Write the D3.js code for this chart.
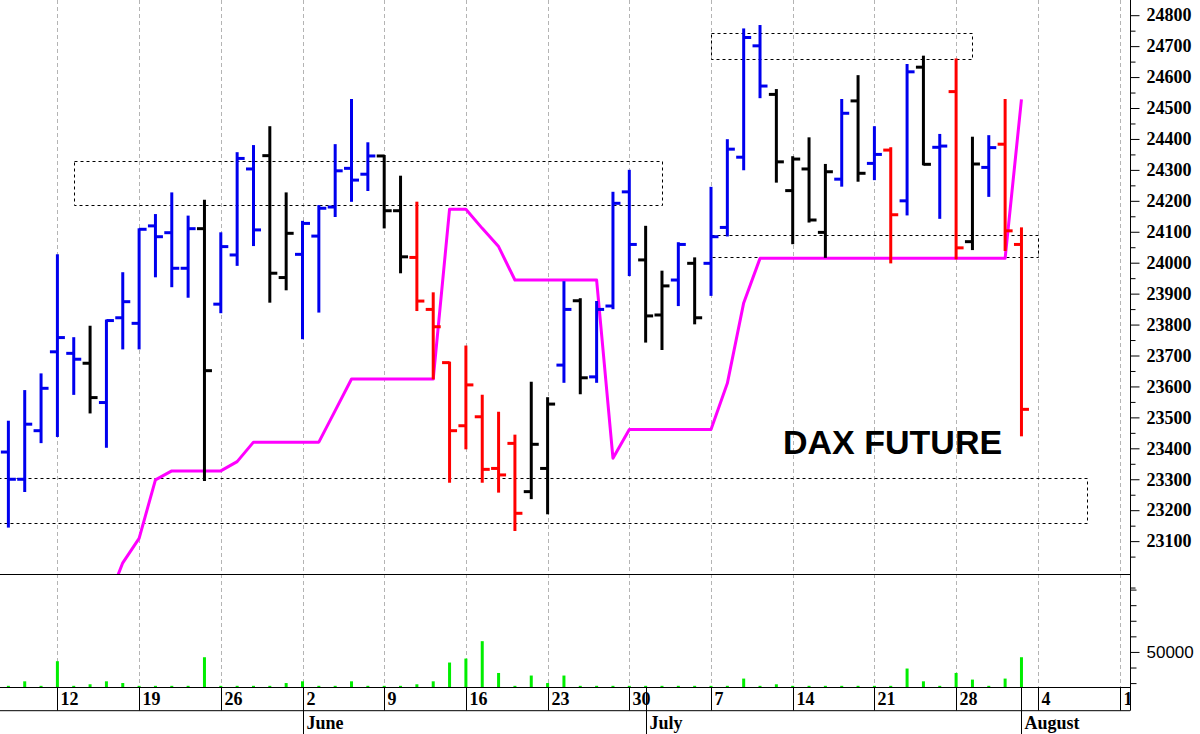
<!DOCTYPE html>
<html><head><meta charset="utf-8">
<script src="https://cdn.jsdelivr.net/npm/d3@7"></script>
<style>html,body{margin:0;padding:0;background:#fff;overflow:hidden}</style>
</head><body><svg id="c" width="1200" height="734"></svg>
<script>
// ---------- DATA ----------
const dates = ["2025-05-07","2025-05-08","2025-05-09",
"2025-05-12","2025-05-13","2025-05-14","2025-05-15","2025-05-16",
"2025-05-19","2025-05-20","2025-05-21","2025-05-22","2025-05-23",
"2025-05-26","2025-05-27","2025-05-28","2025-05-29","2025-05-30",
"2025-06-02","2025-06-03","2025-06-04","2025-06-05","2025-06-06",
"2025-06-09","2025-06-10","2025-06-11","2025-06-12","2025-06-13",
"2025-06-16","2025-06-17","2025-06-18","2025-06-19","2025-06-20",
"2025-06-23","2025-06-24","2025-06-25","2025-06-26","2025-06-27",
"2025-06-30","2025-07-01","2025-07-02","2025-07-03","2025-07-04",
"2025-07-07","2025-07-08","2025-07-09","2025-07-10","2025-07-11",
"2025-07-14","2025-07-15","2025-07-16","2025-07-17","2025-07-18",
"2025-07-21","2025-07-22","2025-07-23","2025-07-24","2025-07-25",
"2025-07-28","2025-07-29","2025-07-30","2025-07-31","2025-08-01"];
const opens = [23388,23300,23457,
23712,23707,23675,23548,23822,
23804,24119,24097,23982,24110,
23866,24025,24303,24346,23952,
24027,24086,24180,24305,24286,
24345,24168,24017,23849,23677,
23473,23502,23335,23416,23260,
23335,23669,23877,23631,23860,
24229,24009,23831,23944,23998,
23998,24114,24341,24701,24544,
24233,24303,24098,24270,24523,
24321,24364,24200,24632,24373,
24553,24068,24308,24383,24059];
const highs = [23486,23585,23639,
24024,23756,23793,23813,23966,
24108,24154,24224,24149,24200,
24095,24354,24377,24438,24224,
24132,24183,24380,24526,24386,
24345,24278,24194,23901,23677,
23729,23570,23515,23441,23612,
23562,23937,23882,23873,24226,
24297,24116,23971,24063,24014,
24242,24396,24754,24765,24558,
24341,24402,24316,24526,24603,
24438,24370,24639,24666,24413,
24657,24404,24409,24526,24111];
const lows = [23147,23262,23420,
23440,23576,23516,23405,23723,
23723,23956,23924,23890,23298,
23840,23993,24057,23874,23914,
23756,23842,24151,24200,24235,
24114,23969,23847,23626,23292,
23400,23292,23260,23136,23239,
23190,23615,23578,23615,23853,
23960,23745,23721,23863,23804,
23896,24088,24302,24535,24262,
24063,24133,24019,24249,24265,
24270,24001,24156,24318,24145,
24014,24044,24216,24041,23442];
const closes = [23300,23478,23594,
23758,23688,23564,23813,23874,
24108,24084,23982,24110,23651,
24052,24337,24106,23966,24095,
24127,24176,24297,24267,24345,
24168,24019,23876,23793,23457,
23605,23332,23314,23190,23413,
23543,23849,23628,23849,24192,
24059,23828,23925,24059,23822,
24084,24367,24728,24571,24326,
24335,24138,24294,24483,24289,
24350,24155,24617,24318,24377,
24048,24319,24372,24103,23526];
// bar colour class: b = blue, k = black, r = red
const barClass = ["b","b","b",
"b","b","k","b","b",
"b","b","b","b","k",
"b","b","b","k","k",
"b","b","b","b","b",
"k","k","r","r","r",
"r","r","r","r","k",
"k","b","k","b","b",
"b","k","k","b","k",
"b","b","b","b","k",
"k","k","k","b","k",
"b","r","b","k","b",
"r","k","b","r","r"];
const volumes = [6500,12300,6500,
38100,6500,8500,12300,10100,
6500,6500,6500,6500,43200,
6500,6500,6500,6500,10100,
12300,6500,6500,12300,6500,
6500,6500,8500,12300,36400,
41500,63800,23000,6500,19700,
10100,19700,6500,6500,6500,
6500,6500,6500,6500,6500,
6500,6500,15800,6500,8500,
6500,6500,6500,6500,6500,
6500,6500,28700,12300,6500,
23000,14500,6500,15800,43200];
// trailing stop line (null = not drawn)
const stopLine = [null,null,null,
null,null,null,22895,23030,
23109,23298,23327,23327,23327,
23327,23357,23420,23420,23420,
23420,23420,23522,23624,23624,
23624,23624,23624,23624,24173,
24173,24111,24052,23944,23944,
23944,23944,23944,23944,23368,
23461,23461,23461,23461,23461,
23461,23610,23870,24014,24014,
24014,24014,24014,24014,24014,
24014,24014,24014,24014,24014,
24014,24014,24014,24014,24528];
const priceTicks = [23100,23200,23300,23400,23500,23600,23700,23800,23900,24000,24100,24200,24300,24400,24500,24600,24700,24800];
const priceMinorTicks = [22950,23050,23150,23250,23350,23450,23550,23650,23750,23850,23950,24050,24150,24250,24350,24450,24550,24650,24750];
const volumeTicks = [10000,30000,70000,90000,110000,130000];
const volumeLabels = [50000];
const monthNames = ["June","July","August"];
// dashed zones: start date (null = from left edge), end date, top, bottom price
const zoneFrom = ["2025-05-13","2025-07-07","2025-07-07",null];
const zoneTo = ["2025-07-02","2025-07-29","2025-08-04","2025-08-07"];
const zoneTop = [24328,24742,24088,23305];
const zoneBottom = [24187,24657,24018,23158];
const title = "DAX FUTURE";

// ---------- LAYOUT ----------
const W = 1200, H = 734;
const plotRight = 1130, priceBottom = 574, volBottom = 687, dayRowBottom = 710.7;
const svg = d3.select("#c");
const parse = d3.timeParse("%Y-%m-%d");
const calendar = d3.timeDays(new Date(2025,4,7), new Date(2025,7,16)).filter(d => d.getDay()>0 && d.getDay()<6);
const calIndex = new Map(calendar.map((d,i)=>[+d,i]));
const idx = d => calIndex.get(+d);
const x = d3.scaleLinear().domain([3, 68]).range([57.4, 1119.5]);
const y = d3.scaleLinear().domain([24000, 24800]).range([262.7, 15.2]);
const yv = d3.scaleLinear().domain([5000, 150000]).range([volBottom, priceBottom]);

const bars = dates.map((s,i)=>({d:parse(s), o:opens[i], h:highs[i], l:lows[i], c:closes[i], k:barClass[i], v:volumes[i], s:stopLine[i]}));
const colorOf = {b:"#0000ee", k:"#000000", r:"#ff0000"};

svg.append("defs").append("clipPath").attr("id","pclip").append("rect")
  .attr("x",0).attr("y",0).attr("width",plotRight).attr("height",priceBottom);

// gridlines at Mondays
const mondays = calendar.filter(d=>d.getDay()===1);
svg.append("g").selectAll("line").data(mondays).join("line")
  .attr("x1",d=>Math.round(x(idx(d)))+0.5).attr("x2",d=>Math.round(x(idx(d)))+0.5)
  .attr("y1",0).attr("y2",volBottom)
  .attr("stroke","#b4b4b4").attr("stroke-width",1).attr("stroke-dasharray","4,3");

// dashed zones
const zg = svg.append("g").attr("clip-path","url(#pclip)");
zoneTo.forEach((t,i)=>{
  const x0 = zoneFrom[i] ? x(idx(parse(zoneFrom[i]))) : -2;
  const x1 = x(idx(parse(t)));
  zg.append("rect").attr("x",Math.round(x0)+0.5).attr("y",Math.round(y(zoneTop[i]))+0.5)
    .attr("width",Math.round(x1-x0)).attr("height",Math.round(y(zoneBottom[i])-y(zoneTop[i])))
    .attr("fill","none").attr("stroke","#000").attr("stroke-width",1).attr("stroke-dasharray","3,3");
});

// stop line
const pg = svg.append("g").attr("clip-path","url(#pclip)");
pg.append("path").datum(bars)
  .attr("d", d3.line().defined(b=>b.s!==null).x(b=>x(idx(b.d))).y(b=>y(b.s)))
  .attr("fill","none").attr("stroke","#ff00ff").attr("stroke-width",3).attr("stroke-linejoin","round");

// OHLC bars
const bg = pg.append("g");
const tick = 7.5;
bars.forEach(b=>{
  const cx = x(idx(b.d)), col = colorOf[b.k];
  const g = bg.append("g").attr("stroke",col).attr("stroke-width",3);
  g.append("line").attr("x1",cx).attr("x2",cx).attr("y1",y(b.h)-1).attr("y2",y(b.l)+1);
  g.append("line").attr("x1",cx-tick).attr("x2",cx).attr("y1",y(b.o)).attr("y2",y(b.o));
  g.append("line").attr("x1",cx).attr("x2",cx+tick).attr("y1",y(b.c)).attr("y2",y(b.c));
});

// title
svg.append("text").attr("x",783).attr("y",454).text(title)
  .attr("font-family","Liberation Sans, Arial, sans-serif").attr("font-weight","bold").attr("font-size",34).attr("fill","#000");

// volume bars
svg.append("g").selectAll("rect").data(bars).join("rect")
  .attr("x",b=>x(idx(b.d))-1.5).attr("width",3)
  .attr("y",b=>yv(b.v)).attr("height",b=>volBottom-yv(b.v))
  .attr("fill","#00ee00");

// frame lines
const frame = svg.append("g").attr("stroke","#000").attr("stroke-width",1);
frame.append("line").attr("x1",0).attr("x2",plotRight).attr("y1",priceBottom+0.5).attr("y2",priceBottom+0.5);
frame.append("line").attr("x1",0).attr("x2",plotRight).attr("y1",volBottom+0.5).attr("y2",volBottom+0.5);
frame.append("line").attr("x1",0).attr("x2",plotRight).attr("y1",dayRowBottom).attr("y2",dayRowBottom);
frame.append("line").attr("x1",plotRight+0.5).attr("x2",plotRight+0.5).attr("y1",0).attr("y2",dayRowBottom);

// price axis
const pax = svg.append("g").attr("transform",`translate(${plotRight+0.5},0)`)
  .call(d3.axisRight(y).tickValues(priceTicks).tickSize(9).tickPadding(7).tickFormat(d3.format("d")));
pax.select(".domain").remove();
pax.selectAll("text").attr("font-family","Liberation Serif, Times New Roman, serif").attr("font-weight","bold").attr("font-size",18).attr("fill","#000");
const minorP = svg.append("g").attr("transform",`translate(${plotRight+0.5},0)`)
  .call(d3.axisRight(y).tickValues(priceMinorTicks).tickSize(5).tickFormat(""));
minorP.select(".domain").remove();

// volume axis
const vax = svg.append("g").attr("transform",`translate(${plotRight+0.5},0)`)
  .call(d3.axisRight(yv).tickValues(volumeTicks).tickSize(6).tickFormat(""));
vax.select(".domain").remove();
const vax2 = svg.append("g").attr("transform",`translate(${plotRight+0.5},0)`)
  .call(d3.axisRight(yv).tickValues(volumeLabels).tickSize(9).tickPadding(7).tickFormat(d3.format("d")));
vax2.select(".domain").remove();
vax2.selectAll("text").attr("font-family","Liberation Sans, Arial, sans-serif").attr("font-size",17).attr("fill","#000");

// date axis: week ticks
const dayFmt = d3.timeFormat("%-d");
const dg = svg.append("g");
dg.append("defs").append("clipPath").attr("id","dclip").append("rect").attr("x",0).attr("y",volBottom).attr("width",plotRight).attr("height",dayRowBottom-volBottom);
const wk = dg.append("g").attr("clip-path","url(#dclip)");
mondays.forEach(m=>{
  const xx = Math.round(x(idx(m)))+0.5;
  wk.append("line").attr("x1",xx).attr("x2",xx).attr("y1",volBottom).attr("y2",dayRowBottom).attr("stroke","#000");
  wk.append("text").attr("x",xx+3).attr("y",705).text(dayFmt(m))
    .attr("font-family","Liberation Serif, Times New Roman, serif").attr("font-weight","bold").attr("font-size",18).attr("fill","#000");
});
// month marks
const monthStarts = [];
calendar.forEach((d,i)=>{ if(i>0 && d.getMonth()!==calendar[i-1].getMonth() && +d <= +parse(dates[dates.length-1])) monthStarts.push(d); });
monthStarts.forEach((m,i)=>{
  const xx = Math.round(x(idx(m)))+0.5;
  dg.append("line").attr("x1",xx).attr("x2",xx).attr("y1",volBottom).attr("y2",H).attr("stroke","#000");
  dg.append("text").attr("x",xx+3).attr("y",729).text(monthNames[i])
    .attr("font-family","Liberation Serif, Times New Roman, serif").attr("font-weight","bold").attr("font-size",18).attr("fill","#000");
});
</script></body></html>
